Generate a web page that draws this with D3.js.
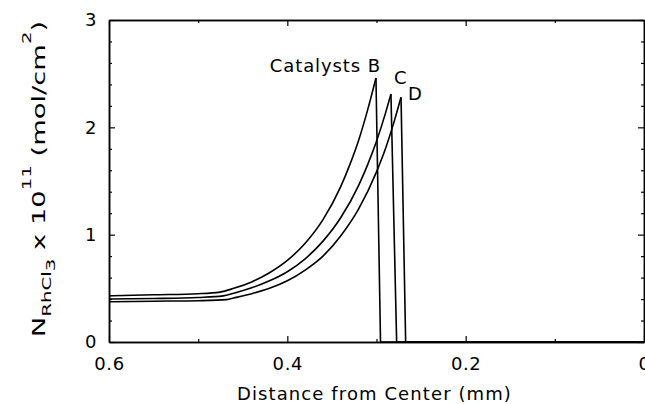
<!DOCTYPE html>
<html>
<head>
<meta charset="utf-8">
<script src="https://cdn.jsdelivr.net/npm/d3@7"></script>
<style>
  html, body { margin: 0; padding: 0; background: #fff; }
  svg { display: block; font-family: "DejaVu Sans", sans-serif; }
</style>
</head>
<body>
<svg id="chart"></svg>
<script>
// distance from center (mm) and N RhCl3 x 1e11 (mol/cm2)
const seriesNames = ["B", "C", "D"];

const distB = [0.600, 0.550, 0.500, 0.4755, 0.460, 0.440, 0.420, 0.400, 0.380, 0.360, 0.340, 0.330, 0.320, 0.310, 0.3006];
const valB  = [0.43, 0.44, 0.45, 0.465, 0.50, 0.56, 0.645, 0.76, 0.92, 1.14, 1.45, 1.65, 1.88, 2.16, 2.46];

const distC = [0.600, 0.550, 0.500, 0.472, 0.460, 0.440, 0.420, 0.400, 0.380, 0.360, 0.340, 0.320, 0.310, 0.300, 0.290, 0.2838];
const valC  = [0.40, 0.405, 0.415, 0.43, 0.455, 0.505, 0.57, 0.655, 0.775, 0.94, 1.16, 1.46, 1.65, 1.87, 2.13, 2.31];

const distD = [0.600, 0.550, 0.500, 0.468, 0.460, 0.440, 0.420, 0.400, 0.380, 0.360, 0.340, 0.320, 0.300, 0.290, 0.280, 0.2725];
const valD  = [0.375, 0.38, 0.385, 0.395, 0.41, 0.45, 0.50, 0.57, 0.67, 0.80, 0.99, 1.24, 1.585, 1.80, 2.06, 2.28];

// distance where each front drops back to zero
const dropDist = [0.2955, 0.2774, 0.2673];

const xMajor = [0.6, 0.4, 0.2, 0];
const xMinor = [0.5, 0.3, 0.1];
const yMajor = [0, 1, 2, 3];
const yMinor = [0.2, 0.4, 0.6, 0.8, 1.2, 1.4, 1.6, 1.8, 2.2, 2.4, 2.6, 2.8];

const width = 645, height = 404;
const margin = {top: 20, right: 1, bottom: 62, left: 109};

let svg = d3.select("#chart")
	.attr("width", width)
	.attr("height", height);

let x = d3.scaleLinear()
	.domain([0.6, 0])
	.range([margin.left, width - margin.right]);

let y = d3.scaleLinear()
	.domain([0, 3])
	.range([height - margin.bottom, margin.top]);

let fmtX = d => d === 0 ? "0" : d3.format(".1f")(d);

// axes - all ticks point inward
function styleAxis(g) {
	g.select(".domain").attr("stroke", "#000").attr("stroke-width", 1.5);
	g.selectAll(".tick line").attr("stroke", "#000").attr("stroke-width", 1.2);
	g.selectAll("text")
		.attr("fill", "#000")
		.style("font-size", "18px")
		.style("letter-spacing", "0.6px")
		.style("font-family", "'DejaVu Sans', sans-serif");
}

let yb = height - margin.bottom;
let xr = width - margin.right;

svg.append("g")
	.attr("transform", "translate(0," + yb + ")")
	.call(d3.axisBottom(x).tickValues(xMajor).tickSizeInner(-6).tickSizeOuter(0).tickPadding(15).tickFormat(fmtX))
	.call(styleAxis);
svg.append("g")
	.attr("transform", "translate(0," + yb + ")")
	.call(d3.axisBottom(x).tickValues(xMinor).tickSizeInner(-3).tickSizeOuter(0).tickFormat(""))
	.call(styleAxis);

svg.append("g")
	.attr("transform", "translate(0," + margin.top + ")")
	.call(d3.axisTop(x).tickValues(xMajor).tickSizeInner(-6).tickSizeOuter(0).tickFormat(""))
	.call(styleAxis);
svg.append("g")
	.attr("transform", "translate(0," + margin.top + ")")
	.call(d3.axisTop(x).tickValues(xMinor).tickSizeInner(-3).tickSizeOuter(0).tickFormat(""))
	.call(styleAxis);

svg.append("g")
	.attr("transform", "translate(" + margin.left + ",0)")
	.call(d3.axisLeft(y).tickValues(yMajor).tickSizeInner(-6).tickSizeOuter(0).tickPadding(12).tickFormat(d3.format("d")))
	.call(styleAxis);
svg.append("g")
	.attr("transform", "translate(" + margin.left + ",0)")
	.call(d3.axisLeft(y).tickValues(yMinor).tickSizeInner(-3).tickSizeOuter(0).tickFormat(""))
	.call(styleAxis);

svg.append("g")
	.attr("transform", "translate(" + xr + ",0)")
	.call(d3.axisRight(y).tickValues(yMajor).tickSizeInner(-6).tickSizeOuter(0).tickFormat(""))
	.call(styleAxis);
svg.append("g")
	.attr("transform", "translate(" + xr + ",0)")
	.call(d3.axisRight(y).tickValues(yMinor).tickSizeInner(-3).tickSizeOuter(0).tickFormat(""))
	.call(styleAxis);

// curves
let dists = [distB, distC, distD];
let vals = [valB, valC, valD];

let rise = d3.line()
	.x(d => x(d[0]))
	.y(d => y(d[1]))
	.curve(d3.curveMonotoneX);

let straight = d3.line()
	.x(d => x(d[0]))
	.y(d => y(d[1]));

let peaks = [];

seriesNames.forEach(function(name, i) {
	let pts = dists[i].map((d, j) => [d, vals[i][j]]);
	let peak = pts[pts.length - 1];
	peaks.push(peak);

	svg.append("path")
		.attr("d", rise(pts))
		.attr("fill", "none")
		.attr("stroke", "#000")
		.attr("stroke-width", 1.6);

	svg.append("path")
		.attr("d", straight([peak, [dropDist[i], 0], [0, 0]]))
		.attr("fill", "none")
		.attr("stroke", "#000")
		.attr("stroke-width", 1.6);
});

// curve labels next to the peaks
let labelFont = g => g.style("font-size", "18px").style("letter-spacing", "0.9px").attr("fill", "#000");

svg.append("text")
	.attr("x", x(peaks[0][0]) + 5)
	.attr("y", y(peaks[0][1]) - 6)
	.attr("text-anchor", "end")
	.call(labelFont)
	.text("Catalysts " + seriesNames[0]);

svg.append("text")
	.attr("x", x(peaks[1][0]) + 3)
	.attr("y", y(peaks[1][1]) - 10)
	.call(labelFont)
	.text(seriesNames[1]);

svg.append("text")
	.attr("x", x(peaks[2][0]) + 7)
	.attr("y", y(peaks[2][1]) + 3)
	.call(labelFont)
	.text(seriesNames[2]);

// axis titles
svg.append("text")
	.attr("x", (margin.left + xr) / 2 - 2)
	.attr("y", 400)
	.attr("text-anchor", "middle")
	.call(labelFont)
	.style("letter-spacing", "1.1px")
	.text("Distance from Center (mm)");

let yt = svg.append("text")
	.attr("transform", "translate(45," + ((margin.top + yb) / 2 - 2) + ") rotate(-90) scale(1.52,1)")
	.attr("text-anchor", "middle")
	.attr("fill", "#000")
	.style("font-size", "18px");

yt.append("tspan").text("N");
yt.append("tspan").attr("dy", 6).style("font-size", "13px").text("RhCl");
yt.append("tspan").attr("dy", 4).style("font-size", "13px").text("3");
yt.append("tspan").attr("dy", -10).text(" x 10");
yt.append("tspan").attr("dy", -14).style("font-size", "13px").text("11");
yt.append("tspan").attr("dy", 14).text(" (mol/cm");
yt.append("tspan").attr("dy", -14).style("font-size", "13px").text("2");
yt.append("tspan").attr("dy", 14).text(")");
</script>
</body>
</html>
